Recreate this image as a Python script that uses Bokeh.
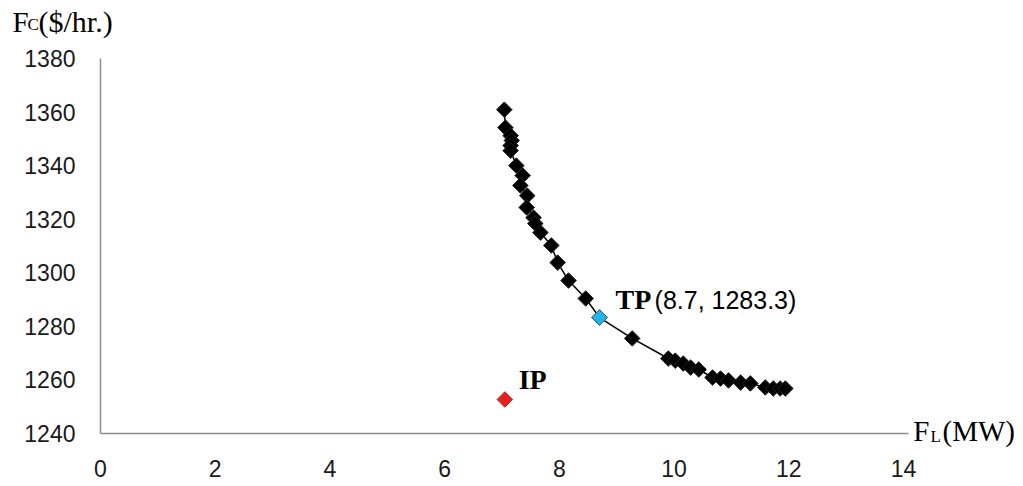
from bokeh.plotting import figure
from bokeh.models import Range1d, FixedTicker, ColumnDataSource
from bokeh.core.properties import value
from bokeh.embed import file_html
from bokeh.resources import INLINE
import numpy as np

# Pareto front points (F_L in MW, F_C in $/hr)
fl = [7.04, 7.06, 7.15, 7.17, 7.15, 7.15, 7.25, 7.36, 7.32, 7.44, 7.43, 7.55, 7.58,
      7.67, 7.86, 7.97, 8.16, 8.46, 8.7, 9.27, 9.90, 10.02, 10.16, 10.29, 10.43,
      10.67, 10.81, 10.95, 11.16, 11.33, 11.59, 11.73, 11.85, 11.94]
fc = [1360.9, 1354.2, 1351.2, 1349.4, 1347.5, 1345.6, 1340.0, 1336.3, 1332.6, 1328.8,
      1324.4, 1320.6, 1318.4, 1315.0, 1310.2, 1303.8, 1297.1, 1290.4, 1283.3, 1275.5,
      1268.0, 1267.2, 1266.1, 1264.6, 1263.9, 1260.9, 1260.5, 1259.8, 1259.0, 1258.7,
      1257.2, 1256.8, 1256.8, 1256.8]
tp = (8.7, 1283.3)
ip = (7.05, 1252.7)
x_ticks = [0, 2, 4, 6, 8, 10, 12, 14]
y_ticks = [1240, 1260, 1280, 1300, 1320, 1340, 1360, 1380]

p = figure(width=1023, height=486, output_backend="svg", toolbar_location=None,
           min_border_left=100, min_border_right=115, min_border_top=58, min_border_bottom=53,
           x_range=Range1d(0, 14.087), y_range=Range1d(1240, 1380))
p.outline_line_color = None
p.grid.grid_line_color = None

for ax in (p.xaxis[0], p.yaxis[0]):
    ax.axis_line_color = "#8f8f8f"
    ax.axis_line_width = 1.5
    ax.major_tick_line_color = None
    ax.minor_tick_line_color = None
    ax.major_tick_out = 0
    ax.major_tick_in = 0
    ax.major_label_text_font = "Liberation Sans"
    ax.major_label_text_font_size = "23px"
    ax.major_label_text_color = "#1a1a1a"
p.xaxis[0].ticker = FixedTicker(ticks=x_ticks)
p.yaxis[0].ticker = FixedTicker(ticks=y_ticks)
p.xaxis[0].major_label_standoff = 26
p.yaxis[0].major_label_standoff = 25

src = ColumnDataSource(dict(x=fl, y=fc))
p.line("x", "y", source=src, line_color="black", line_width=1.5)
p.scatter("x", "y", source=src, marker="square", angle=np.pi / 4, size=11,
          fill_color="black", line_color="#222222", line_width=1)
p.scatter([tp[0]], [tp[1]], marker="square", angle=np.pi / 4, size=11,
          fill_color="#22b5ea", line_color="#4a6f80", line_width=1)
p.scatter([ip[0]], [ip[1]], marker="square", angle=np.pi / 4, size=11,
          fill_color="#e8201c", line_color="#8a3a3a", line_width=1)

def txt(xs, ys, texts, sizes, font="Liberation Serif", style="normal"):
    p.text(x=xs, y=ys, text=texts, text_font=value(font), text_font_size=sizes,
           text_font_style=style, text_color="black", text_baseline="middle",
           text_align="left", level="overlay")

txt([8.98], [1290.1], ["TP"], ["28px"], style="bold")
txt([9.66], [1289.8], ["(%.1f, %.1f)" % tp], ["25px"], font="Liberation Sans")
txt([7.29], [1260.3], ["IP"], ["28px"], style="bold")

# axis titles F_C($/hr.) and F_L(MW)
txt([-1.534, -1.272, -1.081], [1393.8, 1392.6, 1393.8], ["F", "C", "($/hr.)"],
    ["29px", "17px", "30px"])
txt([14.17, 14.47, 14.68], [1240.9, 1238.7, 1240.9], ["F", "L", "(MW)"],
    ["29px", "17px", "29px"])

open("out.html", "w").write(file_html(p, INLINE))
